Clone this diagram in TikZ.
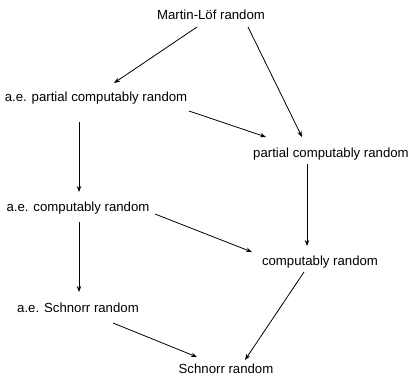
\documentclass[tikz,border=0pt]{standalone}
\usepackage{fontspec}
\setmainfont{Liberation Sans}
\usetikzlibrary{arrows.meta}

\tikzset{
  notion/.style={anchor=base, inner sep=0pt, text height=10pt, text depth=3pt,
    font=\fontsize{13.2}{16}\selectfont},
  impl/.style={-{Stealth[length=6pt,width=4.5pt]}, line width=0.8pt}
}

\begin{document}
\begin{tikzpicture}[x=1pt, y=-1pt]
  \useasboundingbox (0,0) rectangle (411,376);
  % notions of randomness
  \node[notion] (ml)    at (211,19.5) {Martin-Löf random};
  \node[notion] (aepcr) at (96,101)   {a.e. partial computably random};
  \node[notion] (pcr)   at (331,157)  {partial computably random};
  \node[notion] (aecr)  at (78,211)   {a.e. computably random};
  \node[notion] (cr)    at (320,265)  {computably random};
  \node[notion] (aesr)  at (78,312)   {a.e. Schnorr random};
  \node[notion] (sr)    at (226,373)  {Schnorr random};
  % implications
  \draw[impl] ([shift={(-14,7.5)}]ml.base)  -- ([shift={(18,-18)}]aepcr.base);
  \draw[impl] ([shift={(37,7.5)}]ml.base)   -- ([shift={(-29,-20)}]pcr.base);
  \draw[impl] ([shift={(93,10)}]aepcr.base) -- ([shift={(-65,-20)}]pcr.base);
  \draw[impl] ([shift={(-17,21)}]aepcr.base) -- ([shift={(1,-19)}]aecr.base);
  \draw[impl] ([shift={(-24,7)}]pcr.base)   -- ([shift={(-13,-19)}]cr.base);
  \draw[impl] ([shift={(77,3)}]aecr.base)   -- ([shift={(-68,-13)}]cr.base);
  \draw[impl] ([shift={(1,11)}]aecr.base)   -- ([shift={(1,-20)}]aesr.base);
  \draw[impl] ([shift={(35,11)}]aesr.base)  -- ([shift={(-29,-16)}]sr.base);
  \draw[impl] ([shift={(-16,7)}]cr.base)    -- ([shift={(19,-13)}]sr.base);
\end{tikzpicture}
\end{document}
